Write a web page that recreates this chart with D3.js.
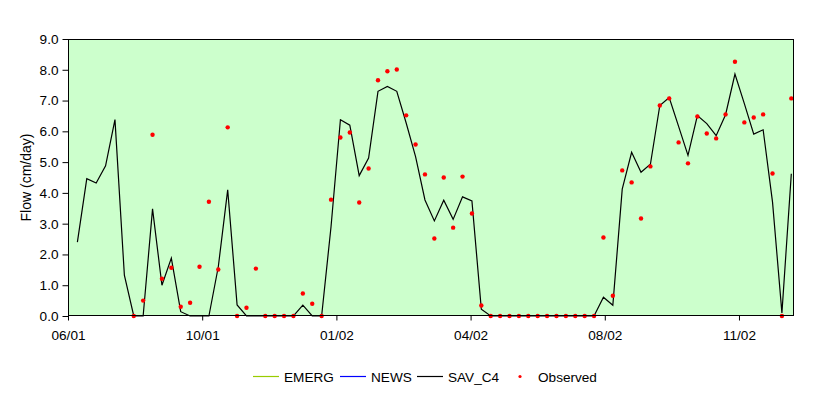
<!DOCTYPE html>
<html>
<head>
<meta charset="utf-8">
<script src="https://cdn.jsdelivr.net/npm/d3@7"></script>
<style>
  body { margin: 0; background: #fff; }
  text { font-family: "Liberation Sans", Arial, sans-serif; fill: #000; }
</style>
</head>
<body>
<div id="chart"></div>
<script>
// weekly values, first week starts 7 days after the axis origin
var axisStart = new Date(Date.UTC(2001, 5, 28));
var firstWeek = new Date(Date.UTC(2001, 6, 5));

var savC4 = [2.40, 4.46, 4.32, 4.88, 6.38, 1.33, 0, 0, 3.48, 1.00,
	1.88, 0.14, 0, 0, 0, 1.60, 4.10, 0.36, 0, 0,
	0, 0, 0, 0, 0.35, 0, 0, 2.90, 6.38, 6.20,
	4.56, 5.13, 7.30, 7.46, 7.30, 6.27, 5.18, 3.77, 3.09, 3.76,
	3.14, 3.87, 3.74, 0.22, 0, 0, 0, 0, 0, 0,
	0, 0, 0, 0, 0, 0, 0.61, 0.35, 4.12, 5.32,
	4.67, 4.93, 6.84, 7.10, 6.16, 5.22, 6.51, 6.25, 5.86, 6.54,
	7.86, 6.90, 5.91, 6.05, 3.70, 0.10, 4.62];

var observed = [null, null, null, null, null, null, 0, 0.50, 5.89, 1.21,
	1.57, 0.30, 0.43, 1.60, 3.71, 1.51, 6.13, 0, 0.27, 1.54,
	0, 0, 0, 0, 0.73, 0.40, 0, 3.78, 5.80, 5.96,
	3.69, 4.79, 7.66, 7.95, 8.01, 6.52, 5.57, 4.60, 2.52, 4.50,
	2.87, 4.53, 3.33, 0.34, 0, 0, 0, 0, 0, 0,
	0, 0, 0, 0, 0, 0, 2.55, 0.66, 4.73, 4.34,
	3.17, 4.86, 6.84, 7.07, 5.64, 4.96, 6.48, 5.93, 5.77, 6.55,
	8.26, 6.29, 6.45, 6.55, 4.63, 0, 7.07];

var emerg = [];
var news = [];

var xTickLabels = ["06/01", "10/01", "01/02", "04/02", "08/02", "11/02"];
var yTicks = [0, 1, 2, 3, 4, 5, 6, 7, 8, 9];

var width = 830, height = 397;
var plotLeft = 68, plotTop = 39, plotRight = 794, plotBottom = 316;

var dates = savC4.map(function(d, i) { return d3.timeDay.offset(firstWeek, 7 * i); });
var tickDates = xTickLabels.map(function(d, i) { return d3.timeDay.offset(axisStart, 100 * i); });

var svg = d3.select("#chart")
	.append("svg")
	.attr("width", width)
	.attr("height", height);

var x = d3.scaleTime()
	.domain([axisStart, d3.timeDay.offset(axisStart, 541)])
	.range([plotLeft, plotRight]);
var y = d3.scaleLinear().domain([0, 9]).range([plotBottom, plotTop]);

svg.append("rect")
	.attr("x", plotLeft).attr("y", plotTop)
	.attr("width", plotRight - plotLeft).attr("height", plotBottom - plotTop)
	.attr("fill", "#ccffcc");

var line = d3.line()
	.defined(function(d) { return d[1] != null; })
	.x(function(d) { return x(d[0]); })
	.y(function(d) { return y(d[1]); });

[[emerg, "#99cc00"], [news, "#0000ff"], [savC4, "#000"]].forEach(function(s) {
	svg.append("path")
		.datum(s[0].map(function(v, i) { return [dates[i], v]; }))
		.attr("fill", "none")
		.attr("stroke", s[1])
		.attr("stroke-width", 1.2)
		.attr("d", line);
});

svg.selectAll(".obs")
	.data(observed.map(function(v, i) { return [dates[i], v]; }).filter(function(d) { return d[1] != null; }))
	.enter()
	.append("circle")
	.attr("class", "obs")
	.attr("cx", function(d) { return x(d[0]); })
	.attr("cy", function(d) { return y(d[1]); })
	.attr("r", 2.2)
	.attr("fill", "#ff0000");

svg.append("rect")
	.attr("x", plotLeft + 0.5).attr("y", plotTop + 0.5)
	.attr("width", plotRight - plotLeft - 1).attr("height", plotBottom - plotTop - 1)
	.attr("fill", "none")
	.attr("stroke", "#000");

var yAxis = svg.append("g")
	.attr("transform", "translate(" + (plotLeft + 0.5) + ",0)")
	.call(d3.axisLeft(y).tickValues(yTicks).tickFormat(d3.format(".1f")).tickSize(6).tickSizeOuter(0).tickPadding(4));
yAxis.select(".domain").remove();
yAxis.selectAll("text").attr("font-size", "13.6px").attr("font-family", "Liberation Sans, Arial, sans-serif");
yAxis.selectAll("line").attr("stroke", "#000");

var xAxis = svg.append("g")
	.attr("transform", "translate(0," + (plotBottom - 0.5) + ")")
	.call(d3.axisBottom(x).tickValues(tickDates).tickFormat(function(d, i) { return xTickLabels[i]; }).tickSize(5).tickSizeOuter(0).tickPadding(10));
xAxis.select(".domain").remove();
xAxis.selectAll("text").attr("font-size", "13.6px").attr("font-family", "Liberation Sans, Arial, sans-serif");
xAxis.selectAll("line").attr("stroke", "#000");

svg.append("text")
	.attr("transform", "translate(26," + ((plotTop + plotBottom) / 2) + ") rotate(-90)")
	.attr("text-anchor", "middle")
	.attr("dy", "0.35em")
	.attr("font-size", "14px")
	.text("Flow (cm/day)");

// legend
var legend = [
	{name: "EMERG", color: "#99cc00", type: "line", x: 253},
	{name: "NEWS", color: "#0000ff", type: "line", x: 340},
	{name: "SAV_C4", color: "#000", type: "line", x: 417},
	{name: "Observed", color: "#ff0000", type: "dot", x: 507}
];
var ly = 376.5;
legend.forEach(function(d) {
	if (d.type == "line") {
		svg.append("line")
			.attr("x1", d.x).attr("x2", d.x + 26)
			.attr("y1", ly).attr("y2", ly)
			.attr("stroke", d.color)
			.attr("stroke-width", 1.2);
	} else {
		svg.append("circle")
			.attr("cx", d.x + 13).attr("cy", ly)
			.attr("r", 1.6)
			.attr("fill", d.color);
	}
	svg.append("text")
		.attr("x", d.x + 31)
		.attr("y", 381.5)
		.attr("font-size", "13.6px")
		.text(d.name);
});
</script>
</body>
</html>
